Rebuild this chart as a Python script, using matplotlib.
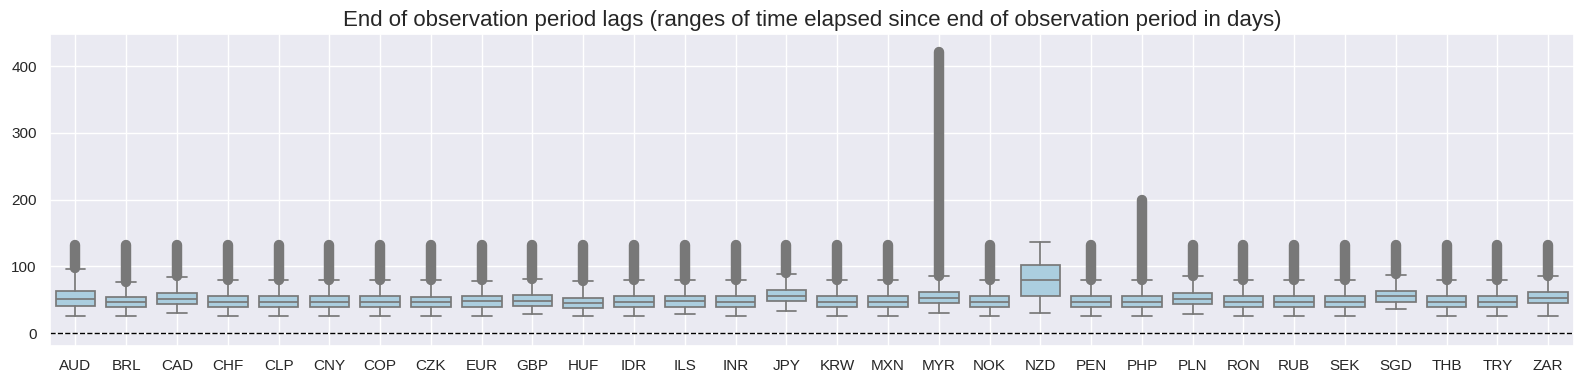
import matplotlib
matplotlib.use("Agg")
import matplotlib.pyplot as plt
import numpy as np
import seaborn as sns

currencies = ["AUD", "BRL", "CAD", "CHF", "CLP", "CNY", "COP", "CZK", "EUR", "GBP",
              "HUF", "IDR", "ILS", "INR", "JPY", "KRW", "MXN", "MYR", "NOK", "NZD",
              "PEN", "PHP", "PLN", "RON", "RUB", "SEK", "SGD", "THB", "TRY", "ZAR"]

q1 = [40, 38.5, 43, 38.5, 38.5, 38.5, 38.5, 38.5, 39.5, 40,
      37, 38.5, 39.5, 38.5, 48.5, 38.5, 38.5, 44.5, 38.5, 56,
      38.5, 38.5, 43.5, 38.5, 38.5, 38.5, 46.5, 38.5, 38.5, 44.5]
med = [51, 46, 51.5, 46, 46, 46, 46, 46.5, 47.5, 48.5,
       45.5, 46, 47.5, 46, 56, 46, 46, 53, 46, 79,
       46, 46, 51.5, 46, 46, 46, 55, 46, 46, 53]
q3 = [62.5, 53.5, 59.5, 55, 55, 55, 55, 54.5, 55, 56.5,
      53, 55, 55, 55, 64, 55, 55, 61.5, 55, 102,
      55, 55, 59.5, 55, 55, 55, 62.5, 55, 55, 61]
whis_lo = [25.5, 25, 29.5, 25, 25, 25, 25, 25, 25, 28,
           25, 25, 28, 25, 33, 25, 25, 29.5, 25, 29.5,
           25, 25, 28, 25, 25, 25, 36, 25, 25, 25]
whis_hi = [96, 76, 84, 79, 79, 79, 79, 79, 78, 80.5,
           77.5, 79, 79, 79, 88.5, 79, 79, 85, 79, 136,
           79, 79, 85, 79, 79, 79, 87, 79, 79, 85]
# largest outlier per currency (NZD has none)
flier_max = [132, 132, 132, 132, 132, 132, 132, 132, 132, 132,
             132, 132, 132, 132, 132, 132, 132, 421, 132, np.nan,
             132, 200, 132, 132, 132, 132, 132, 132, 132, 132]

sns.set_theme(style="darkgrid")
plt.rcParams['font.family'] = ['Liberation Sans', 'DejaVu Sans']

line_col = "#787878"
box_col = "#abcedf"

fig = plt.figure(figsize=(15.84, 3.84), dpi=100)
ax = fig.add_axes([0.0316, 0.0997, 0.9618, 0.811])

stats = []
for i, c in enumerate(currencies):
    stats.append(dict(label=c, q1=q1[i], med=med[i], q3=q3[i],
                      whislo=whis_lo[i], whishi=whis_hi[i], fliers=[]))

pos = np.arange(len(currencies))
ax.bxp(stats, positions=pos, widths=0.78, patch_artist=True, showfliers=False,
       boxprops=dict(facecolor=box_col, edgecolor=line_col, linewidth=1.25),
       medianprops=dict(color=line_col, linewidth=1.25),
       whiskerprops=dict(color=line_col, linewidth=1.25),
       capprops=dict(color=line_col, linewidth=1.25))

# outliers are dense integer days, so they show as a solid column
for i in pos:
    if np.isnan(flier_max[i]):
        continue
    ax.plot([i, i], [whis_hi[i] + 1, flier_max[i]], color=line_col,
            linewidth=7.5, solid_capstyle="round", zorder=3)

ax.axhline(0, color="black", linestyle="--", linewidth=1)
ax.set_xticks(pos)
ax.set_xticklabels(currencies)
ax.set_xlim(-0.5, len(currencies) - 0.5)
ax.set_ylim(-19, 448)
ax.set_yticks([0, 100, 200, 300, 400])
ax.tick_params(labelsize=11)
ax.set_title("End of observation period lags (ranges of time elapsed since end of observation period in days)",
             fontsize=16)

fig.savefig("out.png", dpi=100)
